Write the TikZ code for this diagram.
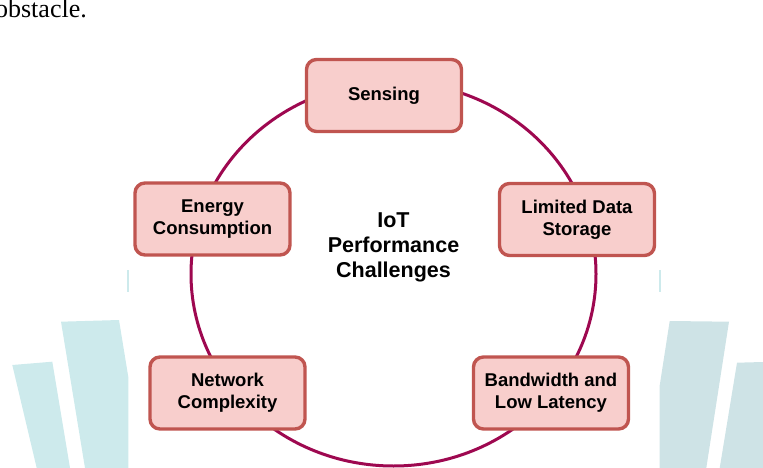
\documentclass[tikz,border=0pt]{standalone}
\usepackage{fontspec}
\setmainfont{Liberation Sans}
\newfontfamily\pageserif{Liberation Serif}
\definecolor{ringred}{RGB}{158,8,80}
\definecolor{boxedge}{RGB}{192,85,80}
\definecolor{boxfill}{RGB}{248,206,204}
\definecolor{wmleft}{RGB}{205,234,236}
\definecolor{wmright}{RGB}{206,227,230}
\begin{document}
\begin{tikzpicture}[x=1pt,y=-1pt,
   challenge/.style={draw=boxedge, fill=boxfill, line width=3.4pt, rounded corners=10pt,
      minimum width=155pt, minimum height=72pt, align=center,
      font=\bfseries\fontsize{18.5}{22.3}\selectfont},
   hubtext/.style={align=center, font=\bfseries\fontsize{21.5}{25}\selectfont}]
   \useasboundingbox (0,0) rectangle (763,468);

   % page text and watermark behind the figure
   \node[anchor=base east, inner sep=0pt, font=\pageserif\fontsize{26}{30}\selectfont] (O) at (87,18) {obstacle.};
   \fill[wmleft] (12.3,365) -- (52.3,361.7) -- (70,468) -- (36.7,468) -- cycle;
   \fill[wmleft] (61,321.7) -- (119,320) -- (128.3,377) -- (128.3,468) -- (85,468) -- cycle;
   \fill[wmright] (669.7,321) -- (729,321.7) -- (706.3,468) -- (659.7,468) -- (659.7,385.5) -- cycle;
   \fill[wmright] (737,362.7) -- (763,362) -- (763,468) -- (719.7,468) -- cycle;
   \foreach \x in {127.3,659.3}
   \fill[wmleft] (\x,270) rectangle ++(2,22);

   % ring
   \coordinate (H) at (393.5,274);
   \draw[ringred, line width=3pt] (H) ellipse [x radius=202.5, y radius=192];

   \node[hubtext] (T) at (393.5,247) {IoT\\Performance\\Challenges};

   \node[challenge] (S) at (384,95.5) {Sensing};
   \node[challenge] (E) at (212.5,219) {Energy\\Consumption};
   \node[challenge] (L) at (577,219.5) {Limited Data\\Storage};
   \node[challenge] (N) at (227.5,393) {Network\\Complexity};
   \node[challenge] (B) at (551,393) {Bandwidth and\\Low Latency};

\end{tikzpicture}
\end{document}
